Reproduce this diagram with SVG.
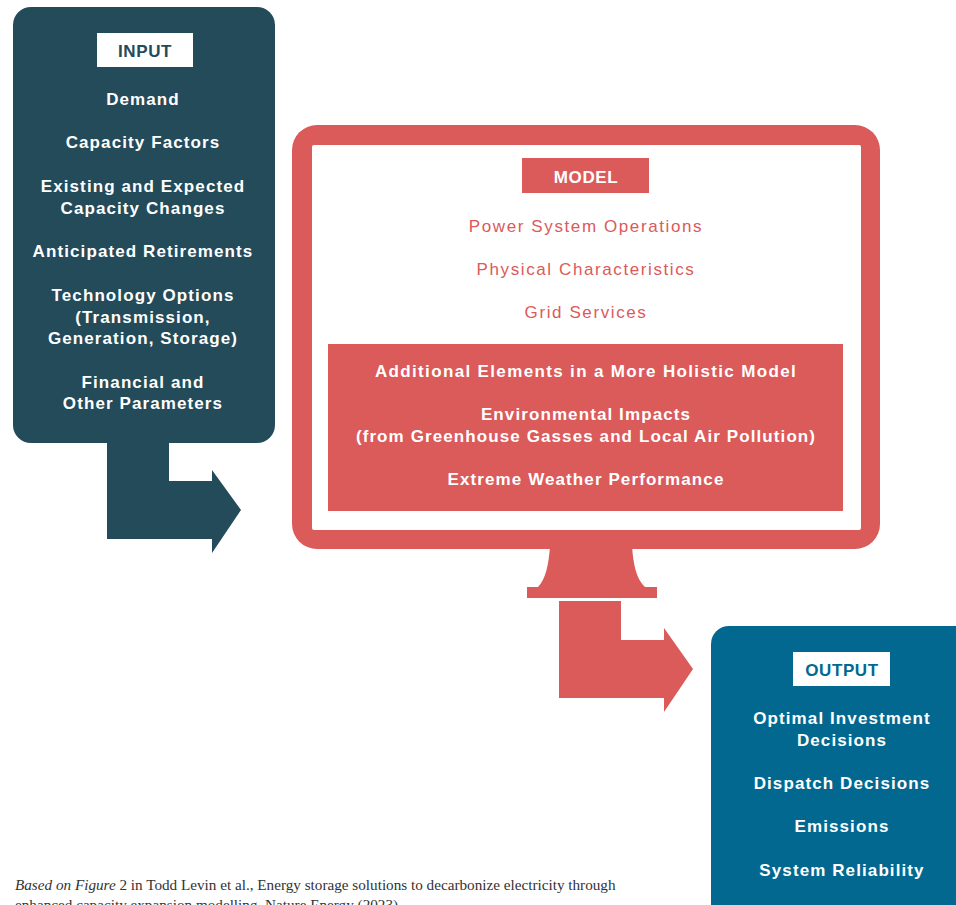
<svg xmlns="http://www.w3.org/2000/svg" width="956" height="905" viewBox="0 0 956 905">
<style>
.t{font-family:"Liberation Sans",Arial,sans-serif;font-size:17px;font-weight:bold;letter-spacing:1.1px;text-anchor:middle}
.w{fill:#ffffff}
.h{letter-spacing:1.35px}
.r{fill:#db5a5a;font-weight:normal;letter-spacing:1.6px}
.lbl{font-family:"Liberation Sans",Arial,sans-serif;font-size:17px;font-weight:bold;text-anchor:middle;letter-spacing:0.6px}
.fn{font-family:"Liberation Serif","Times New Roman",serif;font-size:15.2px;fill:#333333}
</style>
<rect width="956" height="905" fill="#ffffff"/>
<g id="connectors">
<polygon points="107,440 169,440 169,481 212,481 212,470 241,510 212,553 212,539 107,539" fill="#234b5a"/>
<polygon points="559,601 621,601 621,640 664,640 664,628 693,669 664,712 664,698 559,698" fill="#db5a5a"/>
</g>
<g id="input">
<rect x="13" y="7" width="262" height="436" rx="18" fill="#234b5a"/>
<rect x="97" y="33" width="96" height="34" fill="#ffffff"/>
<text class="lbl" x="145" y="57" fill="#234b5a">INPUT</text>
<text class="t w" x="143" y="105">Demand</text>
<text class="t w" x="143" y="148">Capacity Factors</text>
<text class="t w" x="143" y="192">Existing and Expected</text>
<text class="t w" x="143" y="214">Capacity Changes</text>
<text class="t w" x="143" y="257">Anticipated Retirements</text>
<text class="t w" x="143" y="301">Technology Options</text>
<text class="t w" x="143" y="323">(Transmission,</text>
<text class="t w" x="143" y="344">Generation, Storage)</text>
<text class="t w" x="143" y="388">Financial and</text>
<text class="t w" x="143" y="409">Other Parameters</text>
</g>
<g id="model">
<path d="M550,545 L632,545 C633,565 637,580 645,587 L657,587 L657,598 L527,598 L527,587 L538,587 C545,580 549,565 550,545 Z" fill="#db5a5a"/>
<rect x="292" y="125" width="588" height="424" rx="25" fill="#db5a5a"/>
<rect x="312" y="145" width="549" height="385" rx="2" fill="#ffffff"/>
<rect x="522" y="158" width="127" height="35" fill="#db5a5a"/>
<text class="lbl" x="586" y="183" fill="#ffffff">MODEL</text>
<text class="t r" x="586" y="232">Power System Operations</text>
<text class="t r" x="586" y="275">Physical Characteristics</text>
<text class="t r" x="586" y="318">Grid Services</text>
<rect x="328" y="344" width="515" height="167" fill="#db5a5a"/>
<text class="t w h" x="586" y="377">Additional Elements in a More Holistic Model</text>
<text class="t w" x="586" y="420">Environmental Impacts</text>
<text class="t w" x="586" y="442">(from Greenhouse Gasses and Local Air Pollution)</text>
<text class="t w" x="586" y="485">Extreme Weather Performance</text>
</g>
<g id="output">
<rect x="711" y="626" width="270" height="300" rx="18" fill="#036890"/>
<rect x="793" y="652" width="97" height="34" fill="#ffffff"/>
<text class="lbl" x="842" y="676" fill="#036890">OUTPUT</text>
<text class="t w" x="842" y="724">Optimal Investment</text>
<text class="t w" x="842" y="746">Decisions</text>
<text class="t w" x="842" y="789">Dispatch Decisions</text>
<text class="t w" x="842" y="832">Emissions</text>
<text class="t w" x="842" y="876">System Reliability</text>
</g>
<g id="footnote">
<text class="fn" x="15" y="890"><tspan font-style="italic">Based on Figure</tspan> 2 in Todd Levin et al., Energy storage solutions to decarbonize electricity through</text>
<text class="fn" x="15" y="910">enhanced capacity expansion modelling, Nature Energy (2023).</text>
</g>
</svg>
